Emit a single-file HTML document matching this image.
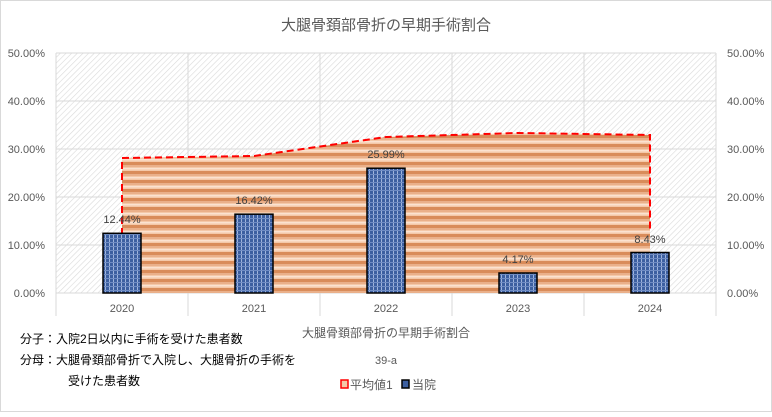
<!DOCTYPE html>
<html><head><meta charset="utf-8"><style>
body{margin:0;background:#fff}
svg text{font-family:"Liberation Sans","Noto Sans CJK JP",sans-serif}
</style></head><body>
<svg width="772" height="412" viewBox="0 0 772 412" xmlns="http://www.w3.org/2000/svg">
<defs>
<pattern id="hatch" width="4" height="4" patternUnits="userSpaceOnUse" patternTransform="rotate(45)">
<rect width="4" height="4" fill="#fff"/><line x1="0" y1="0" x2="0" y2="4" stroke="#d9d9d9" stroke-width="1.2"/>
</pattern>
<pattern id="stripe" width="8" height="9" patternUnits="userSpaceOnUse">
<rect width="8" height="9" fill="#f4c8a8"/>
<rect y="0" width="8" height="3" fill="#d98c5a"/>
<rect y="3" width="8" height="2" fill="#eab08a"/>
<rect y="6" width="8" height="1.5" fill="#fbe2d0"/>
</pattern>
<pattern id="bar" width="4" height="4" patternUnits="userSpaceOnUse">
<rect width="4" height="4" fill="#3c5fa0"/>
<rect x="1" width="1" height="4" fill="#9fb4db"/>
<rect y="2" width="4" height="1" fill="#6f8cc4"/>
</pattern>
</defs>
<rect x="0.5" y="0.5" width="771" height="411" fill="#fff" stroke="#d9d9d9"/>
<text x="386" y="30" font-size="15" fill="#595959" text-anchor="middle">大腿骨頚部骨折の早期手術割合</text>
<rect x="56" y="53" width="660" height="240" fill="url(#hatch)"/>
<g stroke="#d9d9d9" stroke-width="1">
<line x1="56" y1="53" x2="716" y2="53"/><line x1="56" y1="101" x2="716" y2="101"/>
<line x1="56" y1="149" x2="716" y2="149"/><line x1="56" y1="197" x2="716" y2="197"/>
<line x1="56" y1="245" x2="716" y2="245"/><line x1="56" y1="293" x2="716" y2="293"/>
<line x1="56" y1="53" x2="56" y2="316"/><line x1="188" y1="53" x2="188" y2="316"/>
<line x1="320" y1="53" x2="320" y2="316"/><line x1="452" y1="53" x2="452" y2="316"/>
<line x1="584" y1="53" x2="584" y2="316"/><line x1="716" y1="53" x2="716" y2="316"/>
</g>
<polygon points="122,293 122,158 254,156 386,137 518,133 650,135 650,293" fill="url(#stripe)"/>
<polyline points="122,235 122,158 254,156 386,137 518,133 650,135 650,230" fill="none" stroke="#ff0000" stroke-width="2" stroke-dasharray="7,4"/>
<g stroke="#000" stroke-width="1.5" fill="url(#bar)">
<rect x="103" y="233.3" width="38" height="59.7"/>
<rect x="235" y="214.2" width="38" height="78.8"/>
<rect x="367" y="168.2" width="38" height="124.8"/>
<rect x="499" y="273" width="38" height="20"/>
<rect x="631" y="252.5" width="38" height="40.5"/>
</g>
<g font-size="11" fill="#404040" text-anchor="middle">
<text x="122" y="223">12.44%</text><text x="254" y="204">16.42%</text>
<text x="386" y="158">25.99%</text><text x="518" y="263">4.17%</text>
<text x="650" y="243">8.43%</text>
</g>
<g font-size="11" fill="#595959" text-anchor="end">
<text x="45" y="57">50.00%</text><text x="45" y="105">40.00%</text><text x="45" y="153">30.00%</text>
<text x="45" y="201">20.00%</text><text x="45" y="249">10.00%</text><text x="45" y="297">0.00%</text>
</g>
<g font-size="11" fill="#595959">
<text x="727" y="57">50.00%</text><text x="727" y="105">40.00%</text><text x="727" y="153">30.00%</text>
<text x="727" y="201">20.00%</text><text x="727" y="249">10.00%</text><text x="727" y="297">0.00%</text>
</g>
<g font-size="11" fill="#595959" text-anchor="middle">
<text x="122" y="312">2020</text><text x="254" y="312">2021</text><text x="386" y="312">2022</text>
<text x="518" y="312">2023</text><text x="650" y="312">2024</text>
<text x="386" y="337" font-size="12">大腿骨頚部骨折の早期手術割合</text>
<text x="386" y="364">39-a</text>
</g>
<rect x="20" y="324" width="280" height="70" fill="#fff"/>
<g font-size="12" fill="#000">
<text x="20" y="343">分子：入院2日以内に手術を受けた患者数</text>
<text x="20" y="364">分母：大腿骨頚部骨折で入院し、大腿骨折の手術を</text>
<text x="68" y="385">受けた患者数</text>
</g>
<rect x="341" y="380" width="7" height="8" fill="#f4c8a8" stroke="#ff0000" stroke-width="1.5"/>
<text x="350" y="389" font-size="12" fill="#595959">平均値1</text>
<rect x="402" y="380" width="7" height="8" fill="#3c5fa0" stroke="#000" stroke-width="1.5"/>
<text x="412" y="389" font-size="12" fill="#595959">当院</text>
</svg>
</body></html>
